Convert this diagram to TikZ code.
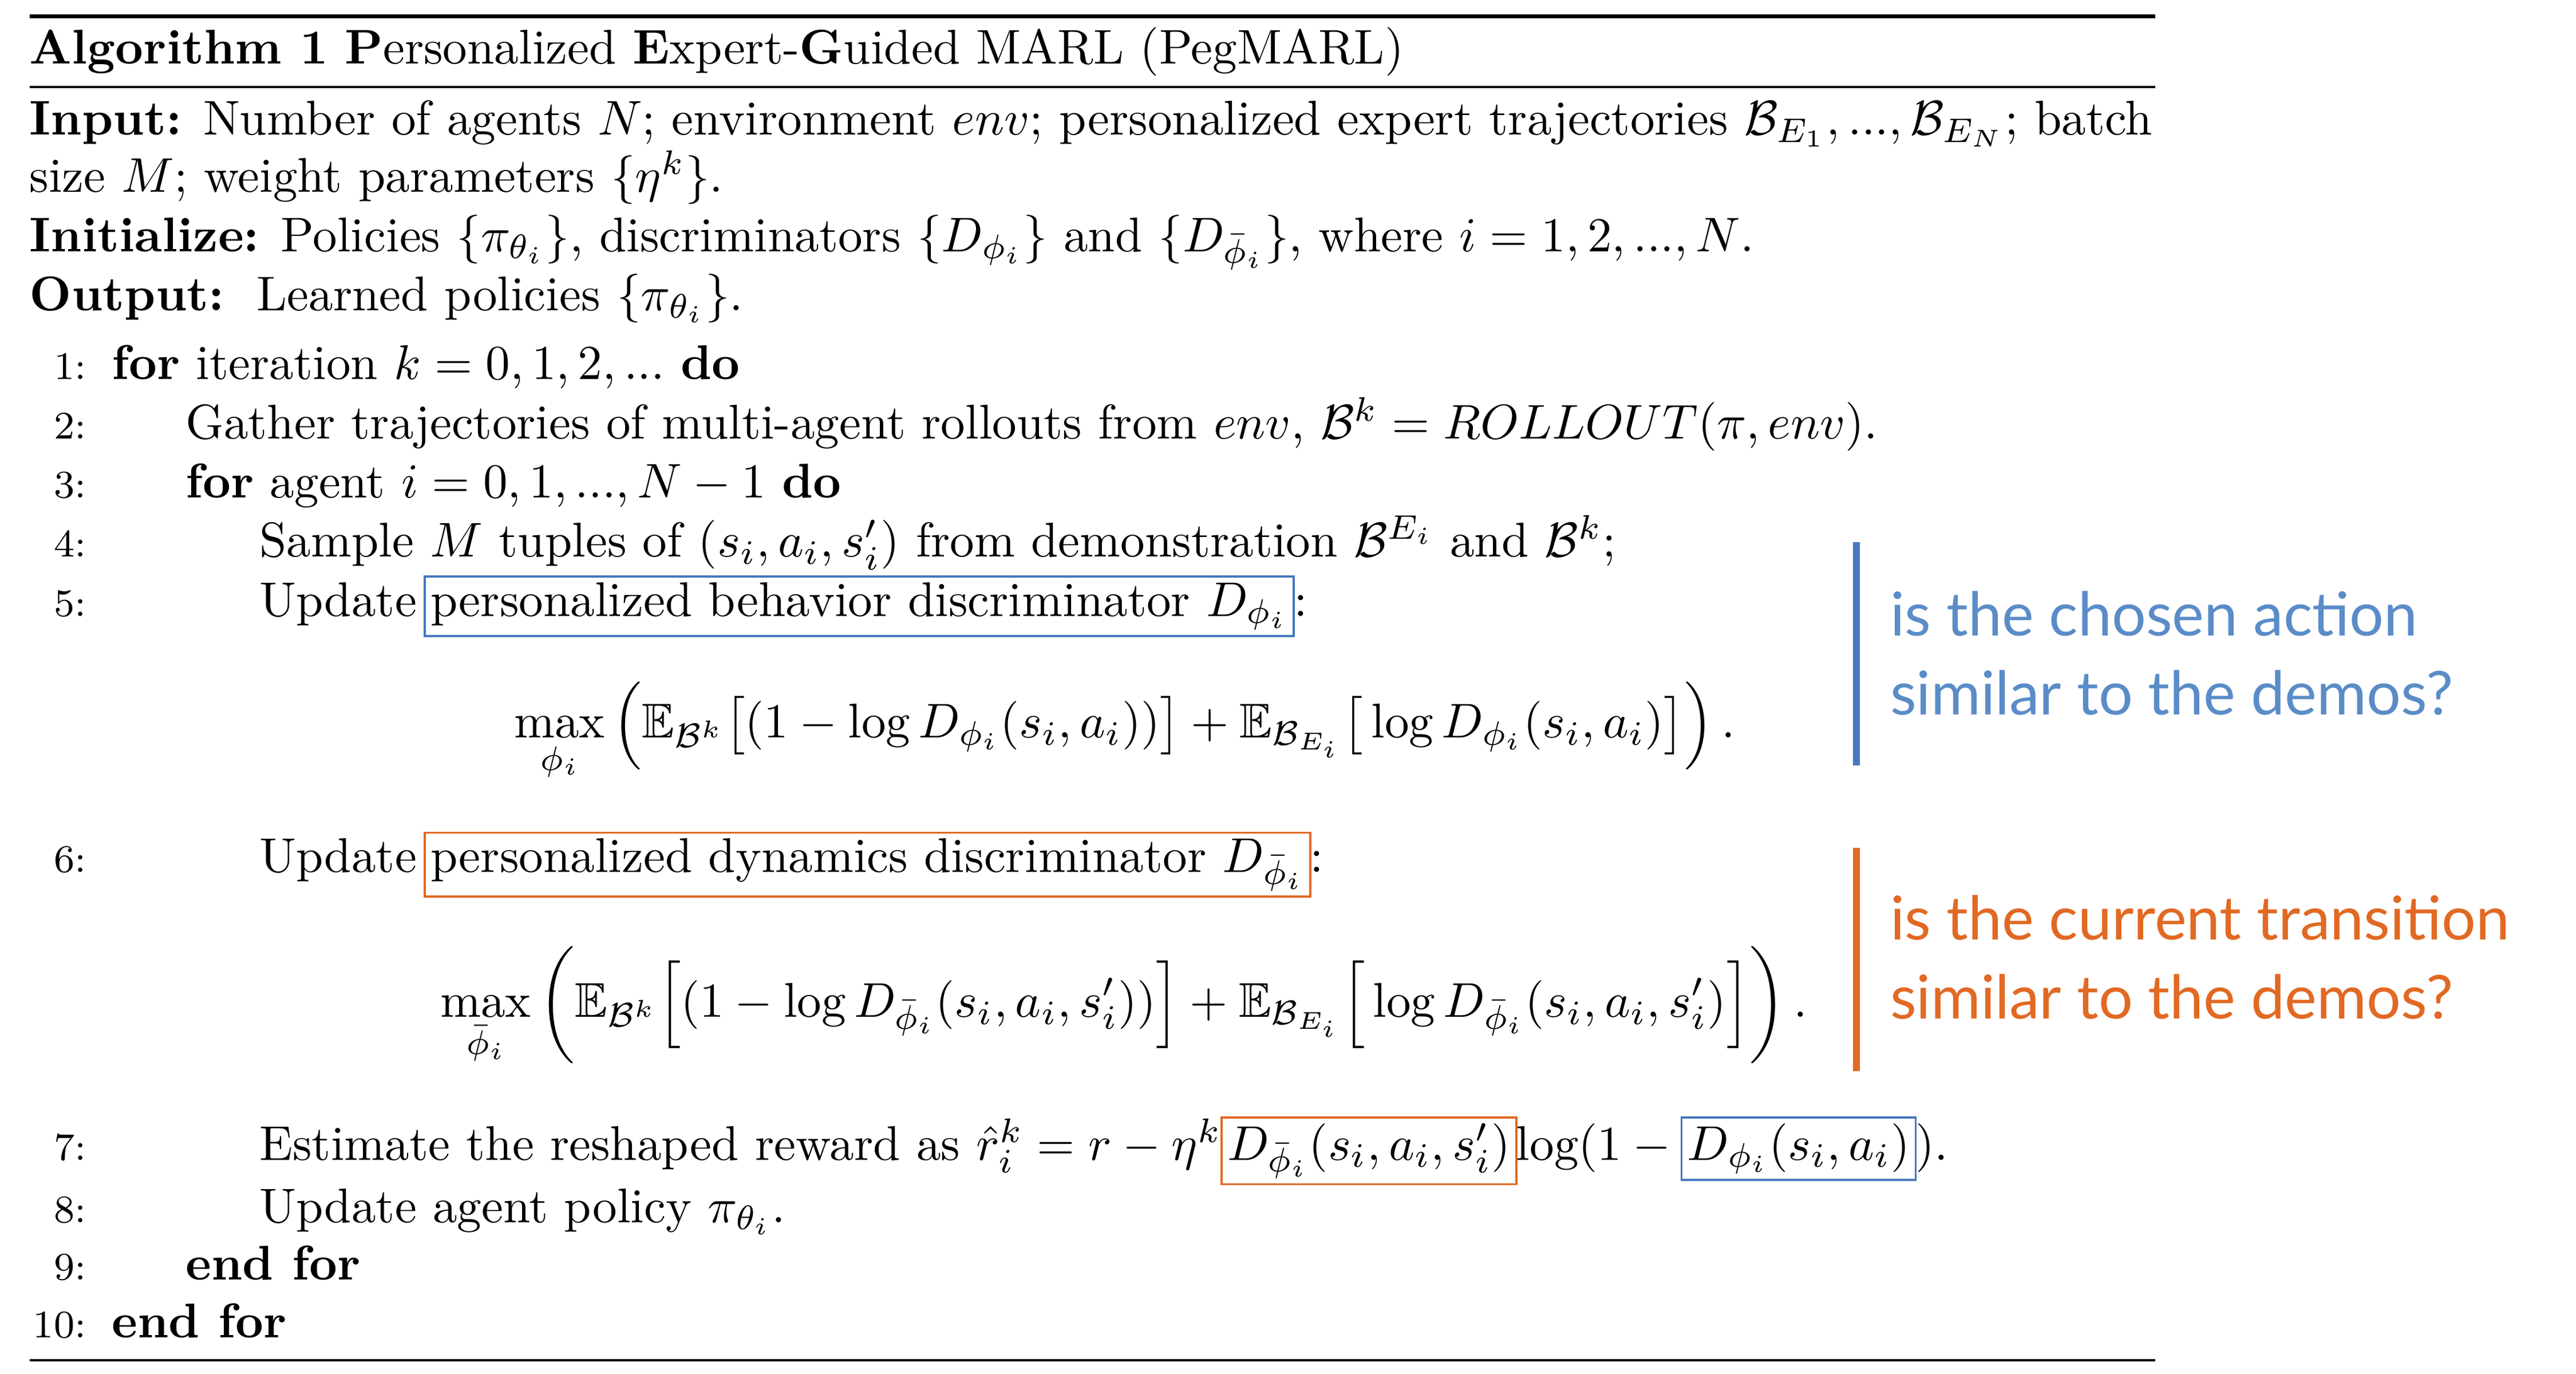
\documentclass[tikz,border=0pt]{standalone}
\usepackage{amsmath,amssymb}
\usepackage{fontspec}
\newfontfamily\notefont{Lato}
\definecolor{bblue}{RGB}{70,120,190}
\definecolor{oorange}{RGB}{225,105,35}
\definecolor{nblue}{RGB}{90,140,200}
\begin{document}
\begin{tikzpicture}[x=0.337pt,y=-0.337pt,
  txt/.style={anchor=base west,inner sep=0pt,outer sep=0pt},
  num/.style={anchor=base east,inner sep=0pt,font=\footnotesize},
  bbox/.style={anchor=base west,draw=bblue,line width=0.45pt,inner sep=1.2pt,outer sep=0pt},
  obox/.style={anchor=base west,draw=oorange,line width=0.45pt,inner sep=1.2pt,outer sep=0pt},
  note/.style={anchor=base west,inner sep=0pt,font=\notefont\fontsize{12.4}{14}\selectfont},
  rule/.style={line width=0.5pt}]
\useasboundingbox (0,0) rectangle (1568,836);
\coordinate (r1a) at (18,10); \coordinate (r1b) at (1312,10);
\coordinate (r2a) at (18,53); \coordinate (r2b) at (1312,53);
\coordinate (r3a) at (18,828); \coordinate (r3b) at (1312,828);
\draw[line width=0.8pt] (r1a) -- (r1b);
\draw[rule] (r2a) -- (r2b);
\draw[rule] (r3a) -- (r3b);
\node[txt] (h) at (18,39) {\textbf{Algorithm 1} \textbf{P}ersonalized \textbf{E}xpert-\textbf{G}uided MARL (PegMARL)};
\node[txt] (in1) at (18,82) {\textbf{Input:} Number of agents $N$; environment $env$; personalized expert trajectories $\mathcal{B}_{E_1},...,\mathcal{B}_{E_N}$; batch};
\node[txt] (in2) at (18,117) {size $M$; weight parameters $\{\eta^k\}$.};
\node[txt] (ini) at (18,153) {\textbf{Initialize:} Policies $\{\pi_{\theta_i}\}$, discriminators $\{D_{\phi_i}\}$ and $\{D_{\bar\phi_i}\}$, where $i=1,2,...,N$.};
\node[txt] (out) at (18,189) {\textbf{Output:}\ \ Learned policies $\{\pi_{\theta_i}\}$.};
\node[num] (n1) at (53,231) {1:};
\node[txt] (l1) at (68,231) {\textbf{for} iteration $k=0,1,2,...$ \textbf{do}};
\node[num] (n2) at (53,267) {2:};
\node[txt] (l2) at (113,267) {Gather trajectories of multi-agent rollouts from $env$, $\mathcal{B}^k = ROLLOUT(\pi,env)$.};
\node[num] (n3) at (53,303) {3:};
\node[txt] (l3) at (113,303) {\textbf{for} agent $i=0,1,...,N-1$ \textbf{do}};
\node[num] (n4) at (53,339) {4:};
\node[txt] (l4) at (158,339) {Sample $M$ tuples of $(s_i,a_i,s_i')$ from demonstration $\mathcal{B}^{E_i}$ and $\mathcal{B}^k$;};
\node[num] (n5) at (53,375) {5:};
\node[txt] (l5a) at (158,375) {Update\,};
\node[bbox] (l5b) at (l5a.base east) {personalized behavior discriminator $D_{\phi_i}$};
\node[txt] (l5c) at (l5b.base east) {:};
\node[txt] (e1) at (313,449) {$\displaystyle\max_{\phi_i}\Big(\mathbb{E}_{\mathcal{B}^k}\big[(1-\log D_{\phi_i}(s_i,a_i))\big]+\mathbb{E}_{\mathcal{B}_{E_i}}\big[\log D_{\phi_i}(s_i,a_i)\big]\Big)\,.$};
\node[num] (n6) at (53,531) {6:};
\node[txt] (l6a) at (158,531) {Update\,};
\node[obox] (l6b) at (l6a.base east) {personalized dynamics discriminator $D_{\bar\phi_i}$};
\node[txt] (l6c) at (l6b.base east) {:};
\node[txt] (e2) at (268,619) {$\displaystyle\max_{\bar\phi_i}\bigg(\mathbb{E}_{\mathcal{B}^k}\Big[(1-\log D_{\bar\phi_i}(s_i,a_i,s_i'))\Big]+\mathbb{E}_{\mathcal{B}_{E_i}}\Big[\log D_{\bar\phi_i}(s_i,a_i,s_i')\Big]\bigg)\,.$};
\node[num] (n7) at (53,706) {7:};
\node[txt] (l7a) at (158,706) {Estimate the reshaped reward as $\hat r_i^k = r-\eta^k$};
\node[obox] (l7b) at (l7a.base east) {$D_{\bar\phi_i}(s_i,a_i,s_i')$};
\node[txt] (l7c) at (l7b.base east) {$\log(1-{}$};
\node[bbox] (l7d) at (l7c.base east) {$D_{\phi_i}(s_i,a_i)$};
\node[txt] (l7e) at (l7d.base east) {$)$.};
\node[num] (n8) at (53,744) {8:};
\node[txt] (l8) at (158,744) {Update agent policy $\pi_{\theta_i}$.};
\node[num] (n9) at (53,779) {9:};
\node[txt] (l9) at (113,779) {\textbf{end for}};
\node[num] (n10) at (53,814) {10:};
\node[txt] (l10) at (68,814) {\textbf{end for}};
\coordinate (bb1) at (1130,330); \coordinate (bb2) at (1130,466);
\coordinate (ob1) at (1130,516); \coordinate (ob2) at (1130,652);
\draw[bblue,line width=1.3pt] (bb1) -- (bb2);
\draw[oorange,line width=1.3pt] (ob1) -- (ob2);
\node[note,text=nblue] (t1) at (1150,387) {is the chosen action};
\node[note,text=nblue] (t2) at (1150,435) {similar to the demos?};
\node[note,text=oorange] (t3) at (1150,572) {is the current transition};
\node[note,text=oorange] (t4) at (1150,620) {similar to the demos?};
\end{tikzpicture}
\end{document}
